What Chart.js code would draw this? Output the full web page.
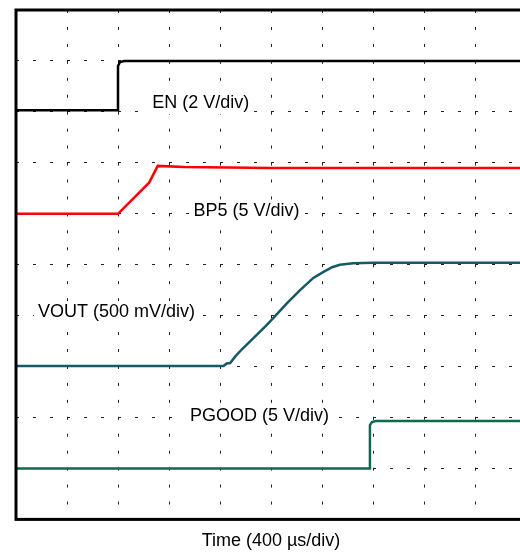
<!DOCTYPE html>
<html>
<head>
<meta charset="utf-8">
<script src="https://cdn.jsdelivr.net/npm/chart.js@4/dist/chart.umd.min.js"></script>
<style>
  html, body { margin: 0; padding: 0; background: #fff; }
  #wrap { width: 520px; height: 553px; overflow: hidden; }
</style>
</head>
<body>
<div id="wrap"><canvas id="scope" width="530" height="553"></canvas></div>
<script>
// traces, in divisions (x: 400 us/div, y: screen divisions)
var enX = [0, 2.0, 2.0, 2.04, 2.12, 10];
var enY = [8.03, 8.03, 8.9, 8.98, 9.0, 9.0];

var bp5X = [0, 2.0, 2.61, 2.78, 3.3, 5, 10];
var bp5Y = [6.0, 6.0, 6.61, 6.94, 6.92, 6.9, 6.9];

var voutX = [0, 4.07, 4.13, 4.2, 4.3, 4.43, 4.92, 5.08, 5.31, 5.57, 5.83, 6.03, 6.2, 6.35, 6.61, 7.0, 10];
var voutY = [3.01, 3.01, 3.06, 3.07, 3.2, 3.34, 3.82, 3.99, 4.24, 4.50, 4.74, 4.86, 4.95, 5.0, 5.03, 5.04, 5.04];

var pgoodX = [0, 6.93, 6.94, 6.98, 7.05, 10];
var pgoodY = [1.0, 1.0, 1.85, 1.91, 1.93, 1.93];

// trace labels: text, left x, middle y
var etiquetas = ['EN (2 V/div)', 'BP5 (5 V/div)', 'VOUT (500 mV/div)', 'PGOOD (5 V/div)'];
var etiquetaX = [2.67, 3.48, 0.43, 3.41];
var etiquetaY = [8.17, 6.05, 4.07, 2.02];

var tituloX = 'Time (400 µs/div)';

function pontos(xs, ys) {
    return xs.map(function(x, i) { return { x: x, y: ys[i] }; });
}

var fonte = '"Liberation Sans", Arial, sans-serif';

// frame + labels (labels sit on a white patch, the grid doesn't cross them)
var molduraETextos = {
    id: 'molduraETextos',
    afterDraw: function(chart) {
        var ctx = chart.ctx;
        var area = chart.chartArea;
        var sx = chart.scales.x, sy = chart.scales.y;
        ctx.save();
        ctx.font = '18px ' + fonte;
        ctx.textBaseline = 'middle';
        ctx.textAlign = 'left';
        etiquetas.forEach(function(t, i) {
            var px = sx.getPixelForValue(etiquetaX[i]);
            var py = sy.getPixelForValue(etiquetaY[i]);
            var w = ctx.measureText(t).width;
            ctx.fillStyle = '#fff';
            ctx.fillRect(px - 4, py - 11, w + 8, 22);
            ctx.fillStyle = '#000';
            ctx.fillText(t, px, py);
        });
        ctx.lineWidth = 3;
        ctx.strokeStyle = '#000';
        ctx.strokeRect(area.left, area.top, area.right - area.left, area.bottom - area.top);
        ctx.restore();
    }
};

var ctx_scope = document.getElementById('scope').getContext('2d');
var scopeChart = new Chart(ctx_scope, {
    type: 'line',
    data: {
        datasets: [
            { label: 'EN', data: pontos(enX, enY), borderColor: '#000000', borderWidth: 2.5 },
            { label: 'BP5', data: pontos(bp5X, bp5Y), borderColor: '#ff0000', borderWidth: 2.5 },
            { label: 'VOUT', data: pontos(voutX, voutY), borderColor: '#155866', borderWidth: 2.5 },
            { label: 'PGOOD', data: pontos(pgoodX, pgoodY), borderColor: '#0b6b4e', borderWidth: 2.5 }
        ]
    },
    options: {
        responsive: false,
        animation: false,
        elements: {
            point: { radius: 0 },
            line: { tension: 0 }
        },
        layout: {
            padding: { left: 16, top: 10, right: 4, bottom: 0 }
        },
        plugins: {
            legend: { display: false },
            tooltip: { enabled: false }
        },
        scales: {
            x: {
                type: 'linear',
                min: 0,
                max: 10,
                ticks: { display: false, stepSize: 1, autoSkip: false },
                grid: { drawTicks: false, color: '#222', lineWidth: 1 },
                border: { display: false, dash: [3, 13.95] },
                title: {
                    display: true,
                    text: tituloX,
                    color: '#000',
                    font: { family: fonte, size: 18 },
                    padding: { top: 11, bottom: 1 }
                }
            },
            y: {
                min: 0,
                max: 10,
                ticks: { display: false, stepSize: 1, autoSkip: false },
                grid: { drawTicks: false, color: '#222', lineWidth: 1 },
                border: { display: false, dash: [3, 14] }
            }
        }
    },
    plugins: [molduraETextos]
});
</script>
</body>
</html>
